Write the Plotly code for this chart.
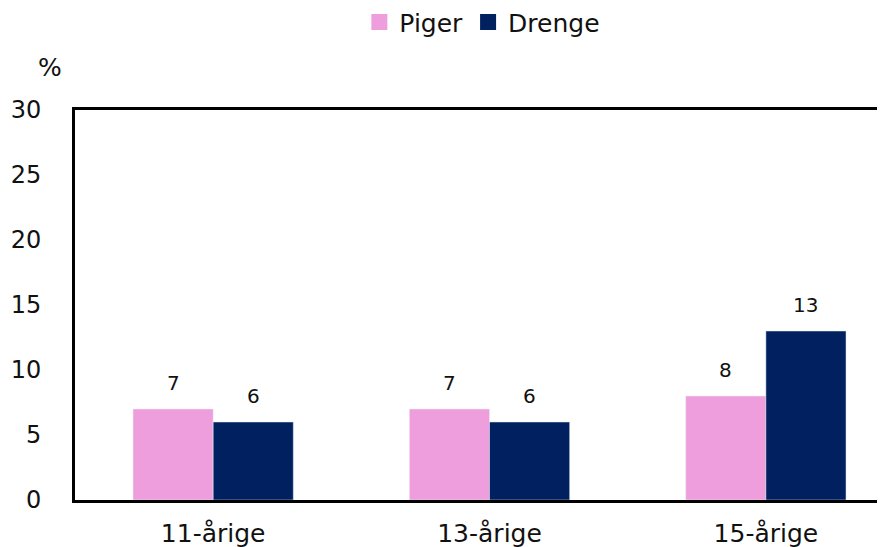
import plotly.graph_objects as go

categories = ["11-årige", "13-årige", "15-årige"]
piger = [7, 7, 8]
drenge = [6, 6, 13]
y_ticks = [0, 5, 10, 15, 20, 25, 30]

FONT = "DejaVu Sans, Verdana, sans-serif"
PINK = "#EE9EDC"
NAVY = "#00205F"
bar_offset = 0.145

fig = go.Figure()
fig.add_trace(go.Bar(name="Piger", x=categories, y=piger, marker_color=PINK, showlegend=False))
fig.add_trace(go.Bar(name="Drenge", x=categories, y=drenge, marker_color=NAVY, showlegend=False))
# legend-only entries with larger square swatches
for name, col in [("Piger", PINK), ("Drenge", NAVY)]:
    fig.add_trace(go.Scatter(name=name, x=[None], y=[None], mode="markers",
                             marker=dict(symbol="square", size=19, color=col),
                             showlegend=True, hoverinfo="skip"))

annotations = []
for i, v in enumerate(piger):
    annotations.append(dict(x=i - bar_offset, y=v, text=str(v), showarrow=False,
                            yanchor="bottom", yshift=12, xref="x", yref="y",
                            font=dict(size=20, color="#111111", family=FONT)))
for i, v in enumerate(drenge):
    annotations.append(dict(x=i + bar_offset, y=v, text=str(v), showarrow=False,
                            yanchor="bottom", yshift=12, xref="x", yref="y",
                            font=dict(size=20, color="#111111", family=FONT)))
annotations.append(dict(text="%", xref="paper", yref="paper", x=-0.031, y=1.108,
                        showarrow=False, font=dict(size=25, family=FONT),
                        xanchor="center", yanchor="middle"))

fig.update_layout(
    width=885, height=547,
    barmode="group", bargap=0.42, bargroupgap=0,
    plot_bgcolor="white", paper_bgcolor="white",
    font=dict(family=FONT, size=24, color="#111111"),
    margin=dict(l=67, r=0, t=102, b=55, autoexpand=False),
    legend=dict(orientation="h", xref="container", x=0.536, xanchor="center",
                yref="container", y=0.974, yanchor="middle",
                font=dict(size=25, family=FONT), itemwidth=30, tracegroupgap=0),
    showlegend=True,
    xaxis=dict(range=[-0.5, 2.46], showline=True, linecolor="black", linewidth=3,
               mirror=True, ticks="", tickfont=dict(size=25), showgrid=False,
               automargin=False, ticklabelstandoff=9, fixedrange=True),
    yaxis=dict(range=[0, 30], tickvals=y_ticks, showline=True, linecolor="black",
               linewidth=3, mirror=False, ticks="", showgrid=False, zeroline=False,
               tickfont=dict(size=24), ticklabelstandoff=26, automargin=False),
    annotations=annotations,
)
fig.write_html("out.html")
